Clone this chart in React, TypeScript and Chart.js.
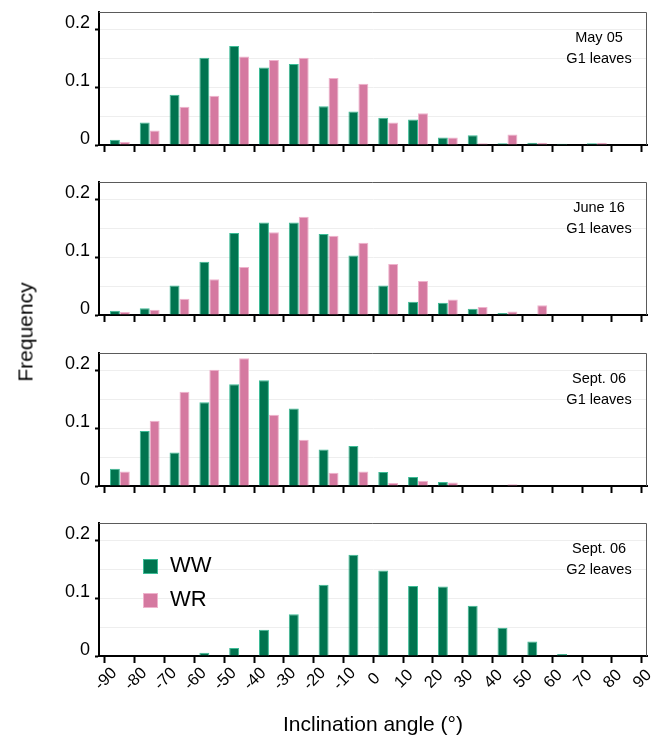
import React, { useEffect, useRef } from 'react';
import { Chart, registerables } from 'chart.js';

Chart.register(...registerables);

const FONT = "'Liberation Sans', Arial, sans-serif";
Chart.defaults.font.family = FONT;
Chart.defaults.color = '#000';

// Bin centres (degrees) and axis ticks
const binCenters = [-85, -75, -65, -55, -45, -35, -25, -15, -5, 5, 15, 25, 35, 45, 55, 65, 75, 85];
const xTickValues = [-90, -80, -70, -60, -50, -40, -30, -20, -10, 0, 10, 20, 30, 40, 50, 60, 70, 80, 90];
const yTickValues = [0, 0.05, 0.1, 0.15, 0.2];
const yLabeledTicks = [0, 0.1, 0.2];

const seriesNames = ['WW', 'WR'];

// May 05, G1 leaves
const wwMay05G1 = [0.009, 0.039, 0.087, 0.151, 0.171, 0.134, 0.14, 0.067, 0.058, 0.047, 0.044, 0.013, 0.017, 0.003, 0.004, 0.002, 0.003, 0];
const wrMay05G1 = [0.005, 0.025, 0.066, 0.085, 0.153, 0.147, 0.151, 0.116, 0.106, 0.039, 0.055, 0.013, 0.003, 0.018, 0.004, 0, 0.004, 0];
// June 16, G1 leaves
const wwJun16G1 = [0.0075, 0.0115, 0.051, 0.092, 0.142, 0.16, 0.16, 0.14, 0.103, 0.051, 0.023, 0.021, 0.011, 0.0035, 0, 0, 0, 0];
const wrJun16G1 = [0.005, 0.009, 0.028, 0.062, 0.083, 0.143, 0.17, 0.137, 0.125, 0.088, 0.059, 0.027, 0.014, 0.006, 0.017, 0, 0, 0.001];
// Sept. 06, G1 leaves
const wwSep06G1 = [0.03, 0.095, 0.058, 0.145, 0.176, 0.183, 0.134, 0.063, 0.069, 0.024, 0.0155, 0.007, 0, 0, 0, 0, 0, 0];
const wrSep06G1 = [0.025, 0.113, 0.163, 0.201, 0.221, 0.123, 0.08, 0.023, 0.025, 0.005, 0.009, 0.006, 0, 0.003, 0, 0, 0, 0];
// Sept. 06, G2 leaves (WR not shown)
const wwSep06G2 = [0, 0, 0, 0.0057, 0.0138, 0.0454, 0.0724, 0.123, 0.175, 0.148, 0.121, 0.12, 0.087, 0.049, 0.025, 0.0034, 0, 0];
const wrSep06G2: number[] = [];

const panelNotes = [
  ['May 05', 'G1 leaves'],
  ['June 16', 'G1 leaves'],
  ['Sept. 06', 'G1 leaves'],
  ['Sept. 06', 'G2 leaves'],
];

const xTitle = 'Inclination angle (°)';
const yTitle = 'Frequency';

const GREEN = '#00744F';
const GREEN_BORDER = '#3DBB96';
const PINK = '#D579A0';
const PINK_BORDER = '#EFB3CD';

type PanelProps = {
  top: number;
  height: number;
  ww: number[];
  wr: number[];
  notes: string[];
  bottomPanel: boolean;
};

function Panel({ top, height, ww, wr, notes, bottomPanel }: PanelProps) {
  const ref = useRef<HTMLCanvasElement>(null);

  useEffect(() => {
    const canvas = ref.current!;
    const decor = {
      id: 'decor',
      afterDraw(chart: any) {
        const { ctx, chartArea } = chart;
        const { left, top: t, right, bottom } = chartArea;
        ctx.save();
        // top / right frame
        ctx.strokeStyle = '#5a5a5a';
        ctx.lineWidth = 1;
        ctx.beginPath();
        ctx.moveTo(left, t + 0.5);
        ctx.lineTo(right - 0.5, t + 0.5);
        ctx.lineTo(right - 0.5, bottom);
        ctx.stroke();
        // panel note
        ctx.fillStyle = '#000';
        ctx.font = `14.5px ${FONT}`;
        ctx.textAlign = 'center';
        ctx.textBaseline = 'alphabetic';
        notes.forEach((s, i) => ctx.fillText(s, right - 48, t + 30 + 21 * i));
        if (bottomPanel) {
          const xs = chart.scales.x;
          ctx.font = `16.5px ${FONT}`;
          ctx.textAlign = 'center';
          ctx.textBaseline = 'middle';
          xTickValues.forEach((v) => {
            const px = xs.getPixelForValue(v);
            ctx.save();
            ctx.translate(px + 1, bottom + 23);
            ctx.rotate(-Math.PI / 4);
            ctx.fillText(String(v), 0, 0);
            ctx.restore();
          });
          chart.data.datasets.forEach((ds: any, i: number) => {
            const sx = left + 44;
            const sy = t + 36 + 34 * i;
            ctx.fillStyle = ds.backgroundColor;
            ctx.fillRect(sx, sy, 15, 15);
            ctx.strokeStyle = ds.borderColor;
            ctx.lineWidth = 1;
            ctx.strokeRect(sx + 0.5, sy + 0.5, 14, 14);
            ctx.fillStyle = '#000';
            ctx.font = `22px ${FONT}`;
            ctx.textAlign = 'left';
            ctx.textBaseline = 'middle';
            ctx.fillText(ds.label, sx + 27, sy + 7);
          });
        }
        ctx.restore();
      },
    };

    const isLabeled = (v: number) => yLabeledTicks.some((t) => Math.abs(t - v) < 1e-9);

    const chart = new Chart(canvas, {
      type: 'bar',
      data: {
        datasets: [
          {
            label: seriesNames[0],
            data: ww.map((y, i) => ({ x: binCenters[i], y })),
            backgroundColor: GREEN,
            borderColor: GREEN_BORDER,
            borderWidth: 1,
          },
          {
            label: seriesNames[1],
            data: wr.map((y, i) => ({ x: binCenters[i], y })),
            backgroundColor: PINK,
            borderColor: PINK_BORDER,
            borderWidth: 1,
          },
        ],
      },
      options: {
        responsive: false,
        maintainAspectRatio: false,
        animation: false,
        events: [],
        layout: { padding: { left: 0, top: 12, right: 15, bottom: 0 } },
        datasets: {
          bar: { categoryPercentage: 0.667, barPercentage: 1 },
        },
        plugins: {
          legend: { display: false },
          tooltip: { enabled: false },
        },
        scales: {
          x: {
            type: 'linear',
            offset: false,
            min: -92,
            max: 91.8,
            afterBuildTicks: (scale: any) => {
              scale.ticks = xTickValues.map((v) => ({ value: v }));
            },
            afterFit: (scale: any) => {
              scale.height = bottomPanel ? 83 : height - 145;
              scale.paddingLeft = 0;
              scale.paddingRight = 0;
            },
            ticks: { display: false },
            grid: {
              display: true,
              offset: false,
              drawOnChartArea: false,
              drawTicks: true,
              tickLength: 7,
              tickWidth: 2,
              tickColor: '#000',
            },
            border: { display: true, color: '#000', width: 2 },
            title: {
              display: bottomPanel,
              text: xTitle,
              color: '#000',
              font: { size: 21 },
              padding: { top: 0, bottom: 1 },
            },
          },
          y: {
            type: 'linear',
            min: 0,
            max: 0.23,
            afterBuildTicks: (scale: any) => {
              scale.ticks = yTickValues.map((v) => ({ value: v }));
            },
            afterFit: (scale: any) => {
              scale.width = 99;
              scale.paddingTop = 0;
              scale.paddingBottom = 0;
            },
            ticks: {
              padding: 5,
              labelOffset: -6,
              font: { size: 18 },
              color: '#000',
              callback: (v: any) => (isLabeled(Number(v)) ? String(v) : ''),
            },
            grid: {
              display: true,
              drawOnChartArea: true,
              drawTicks: true,
              tickLength: 4,
              tickWidth: 2,
              color: (ctx: any) => (ctx.tick && ctx.tick.value === 0 ? 'rgba(0,0,0,0)' : '#eeeeee'),
              tickColor: (ctx: any) => (ctx.tick && isLabeled(ctx.tick.value) ? '#000' : 'rgba(0,0,0,0)'),
            },
            border: { display: true, color: '#000', width: 2 },
          },
        },
      },
      plugins: [decor],
    } as any);

    return () => chart.destroy();
  }, []);

  return (
    <canvas
      ref={ref}
      width={662}
      height={height}
      style={{ position: 'absolute', left: 0, top, width: 662, height, display: 'block' }}
    />
  );
}

export default function App() {
  return (
    <div style={{ position: 'absolute', left: 0, top: 0, width: 662, height: 739, background: '#fff', overflow: 'hidden' }}>
      <Panel top={0} height={170} ww={wwMay05G1} wr={wrMay05G1} notes={panelNotes[0]} bottomPanel={false} />
      <Panel top={170} height={171} ww={wwJun16G1} wr={wrJun16G1} notes={panelNotes[1]} bottomPanel={false} />
      <Panel top={341} height={170} ww={wwSep06G1} wr={wrSep06G1} notes={panelNotes[2]} bottomPanel={false} />
      <Panel top={511} height={228} ww={wwSep06G2} wr={wrSep06G2} notes={panelNotes[3]} bottomPanel={true} />
      <div
        style={{
          position: 'absolute',
          left: 25,
          top: 332,
          transform: 'translate(-50%, -50%) rotate(-90deg)',
          fontFamily: FONT,
          fontSize: 21,
          color: '#000',
          whiteSpace: 'nowrap',
          lineHeight: 1,
        }}
      >
        {yTitle}
      </div>
    </div>
  );
}
